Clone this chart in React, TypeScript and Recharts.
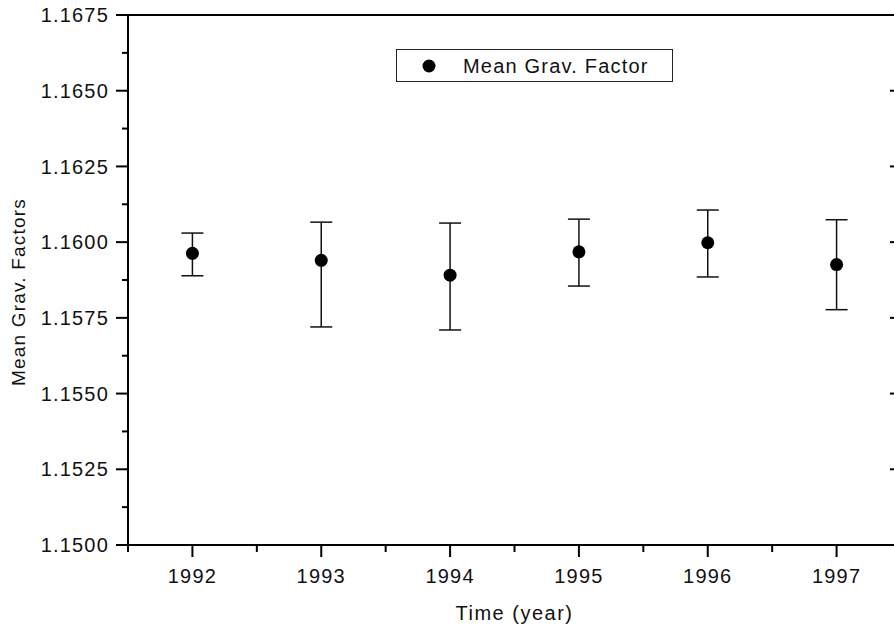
import React from 'react';
import {
  ScatterChart,
  Scatter,
  XAxis,
  YAxis,
  ErrorBar,
  Legend,
  Label,
} from 'recharts';

const years = [1992, 1993, 1994, 1995, 1996, 1997];
const meanValues = [1.15963, 1.1594, 1.15891, 1.15968, 1.15998, 1.15926];
const lowerErrors = [0.00074, 0.0022, 0.00181, 0.00113, 0.00113, 0.00149];
const upperErrors = [0.00067, 0.00126, 0.00172, 0.00108, 0.00108, 0.00148];

const xTicks = [1991.5, 1992, 1992.5, 1993, 1993.5, 1994, 1994.5, 1995, 1995.5, 1996, 1996.5, 1997, 1997.5];
const yTicks = [
  1.15, 1.15125, 1.1525, 1.15375, 1.155, 1.15625, 1.1575, 1.15875, 1.16,
  1.16125, 1.1625, 1.16375, 1.165, 1.16625, 1.1675,
];
const yLabelTicks = [1.15, 1.1525, 1.155, 1.1575, 1.16, 1.1625, 1.165, 1.1675];

const data = years.map((year, i) => ({
  year,
  value: meanValues[i],
  err: [lowerErrors[i], upperErrors[i]],
}));

const FONT = "'Liberation Sans', Arial, sans-serif";
const isMajorX = (v: number) => Number.isInteger(v);
const isMajorY = (v: number) => yLabelTicks.some((t) => Math.abs(t - v) < 1e-7);

const BottomTick = (props: any) => {
  const { x, y, payload } = props;
  const major = isMajorX(payload.value);
  return (
    <g>
      <line x1={x} y1={y} x2={x} y2={y + (major ? 12 : 7)} stroke="#000" strokeWidth={2} />
      {major && (
        <text x={x} y={y + 38} textAnchor="middle" fontSize={20} letterSpacing={1.2} fill="#111" fontFamily={FONT}>
          {payload.value}
        </text>
      )}
    </g>
  );
};

const TopTick = (props: any) => {
  const { x, y, payload } = props;
  const major = isMajorX(payload.value);
  return <line x1={x} y1={y} x2={x} y2={y + (major ? 11 : 6)} stroke="#000" strokeWidth={2} />;
};

const LeftTick = (props: any) => {
  const { x, y, payload } = props;
  const major = isMajorY(payload.value);
  return (
    <g>
      <line x1={x - (major ? 12 : 6)} y1={y} x2={x} y2={y} stroke="#000" strokeWidth={2} />
      {major && (
        <text x={x - 19} y={y} dy="0.36em" textAnchor="end" fontSize={20} letterSpacing={1.2} fill="#111" fontFamily={FONT}>
          {payload.value.toFixed(4)}
        </text>
      )}
    </g>
  );
};

const RightTick = (props: any) => {
  const { x, y, payload } = props;
  const major = isMajorY(payload.value);
  return <line x1={x - (major ? 11 : 6)} y1={y} x2={x} y2={y} stroke="#000" strokeWidth={2} />;
};

const Dot = (props: any) => <circle cx={props.cx} cy={props.cy} r={6.5} fill="#000" />;

const LegendBox = () => (
  <div
    style={{
      width: 277,
      height: 33,
      boxSizing: 'border-box',
      border: '1.5px solid #222',
      position: 'relative',
      background: '#fff',
      fontFamily: FONT,
    }}
  >
    <svg width={20} height={20} style={{ position: 'absolute', left: 22, top: 6 }}>
      <circle cx={10} cy={10} r={6.5} fill="#000" />
    </svg>
    <span
      style={{
        position: 'absolute',
        left: 66,
        top: 4,
        fontSize: 20,
        letterSpacing: 1.2,
        color: '#111',
        lineHeight: '24px',
        whiteSpace: 'nowrap',
      }}
    >
      Mean Grav. Factor
    </span>
  </div>
);

export default function App() {
  return (
    <div
      style={{
        position: 'absolute',
        left: 0,
        top: 0,
        width: 894,
        height: 629,
        overflow: 'hidden',
        background: '#fff',
        fontFamily: FONT,
      }}
    >
      <ScatterChart width={902} height={629} margin={{ top: 14, right: 0, bottom: 0, left: 0 }}>
        <XAxis
          xAxisId="top"
          orientation="top"
          type="number"
          dataKey="year"
          domain={[1991.5, 1997.5]}
          ticks={xTicks}
          height={1}
          tickSize={0}
          tickMargin={0}
          tickLine={false}
          axisLine={{ stroke: '#000', strokeWidth: 2 }}
          tick={<TopTick />}
          interval={0}
        />
        <XAxis
          type="number"
          dataKey="year"
          domain={[1991.5, 1997.5]}
          ticks={xTicks}
          height={84}
          tickSize={0}
          tickMargin={0}
          tickLine={false}
          axisLine={{ stroke: '#000', strokeWidth: 2 }}
          tick={<BottomTick />}
          interval={0}
        >
          <Label
            value="Time (year)"
            position="insideBottom"
            offset={9}
            fontSize={20}
            letterSpacing={1.5}
            fill="#111"
            fontFamily={FONT}
          />
        </XAxis>
        <YAxis
          type="number"
          dataKey="value"
          domain={[1.15, 1.1675]}
          ticks={yTicks}
          width={128}
          tickSize={0}
          tickMargin={0}
          tickLine={false}
          axisLine={{ stroke: '#000', strokeWidth: 2 }}
          tick={<LeftTick />}
          interval={0}
          allowDataOverflow
        >
          <Label
            content={() => (
              <text
                x={18}
                y={292}
                transform="rotate(-90 18 292)"
                textAnchor="middle"
                dy="0.35em"
                fontSize={19}
                letterSpacing={1.2}
                fill="#111"
                fontFamily={FONT}
              >
                Mean Grav. Factors
              </text>
            )}
          />
        </YAxis>
        <YAxis
          yAxisId="right"
          orientation="right"
          type="number"
          domain={[1.15, 1.1675]}
          ticks={yTicks}
          width={1}
          tickSize={0}
          tickMargin={0}
          tickLine={false}
          axisLine={{ stroke: '#000', strokeWidth: 2 }}
          tick={<RightTick />}
          interval={0}
          allowDataOverflow
        />
        <Legend
          layout="horizontal"
          verticalAlign="middle"
          wrapperStyle={{ left: 396, top: 49, width: 277, height: 33 }}
          content={<LegendBox />}
        />
        <Scatter name="Mean Grav. Factor" data={data} dataKey="value" shape={<Dot />} isAnimationActive={false}>
          <ErrorBar dataKey="err" direction="y" width={11} stroke="#111" strokeWidth={1.5} isAnimationActive={false} />
        </Scatter>
      </ScatterChart>
    </div>
  );
}
